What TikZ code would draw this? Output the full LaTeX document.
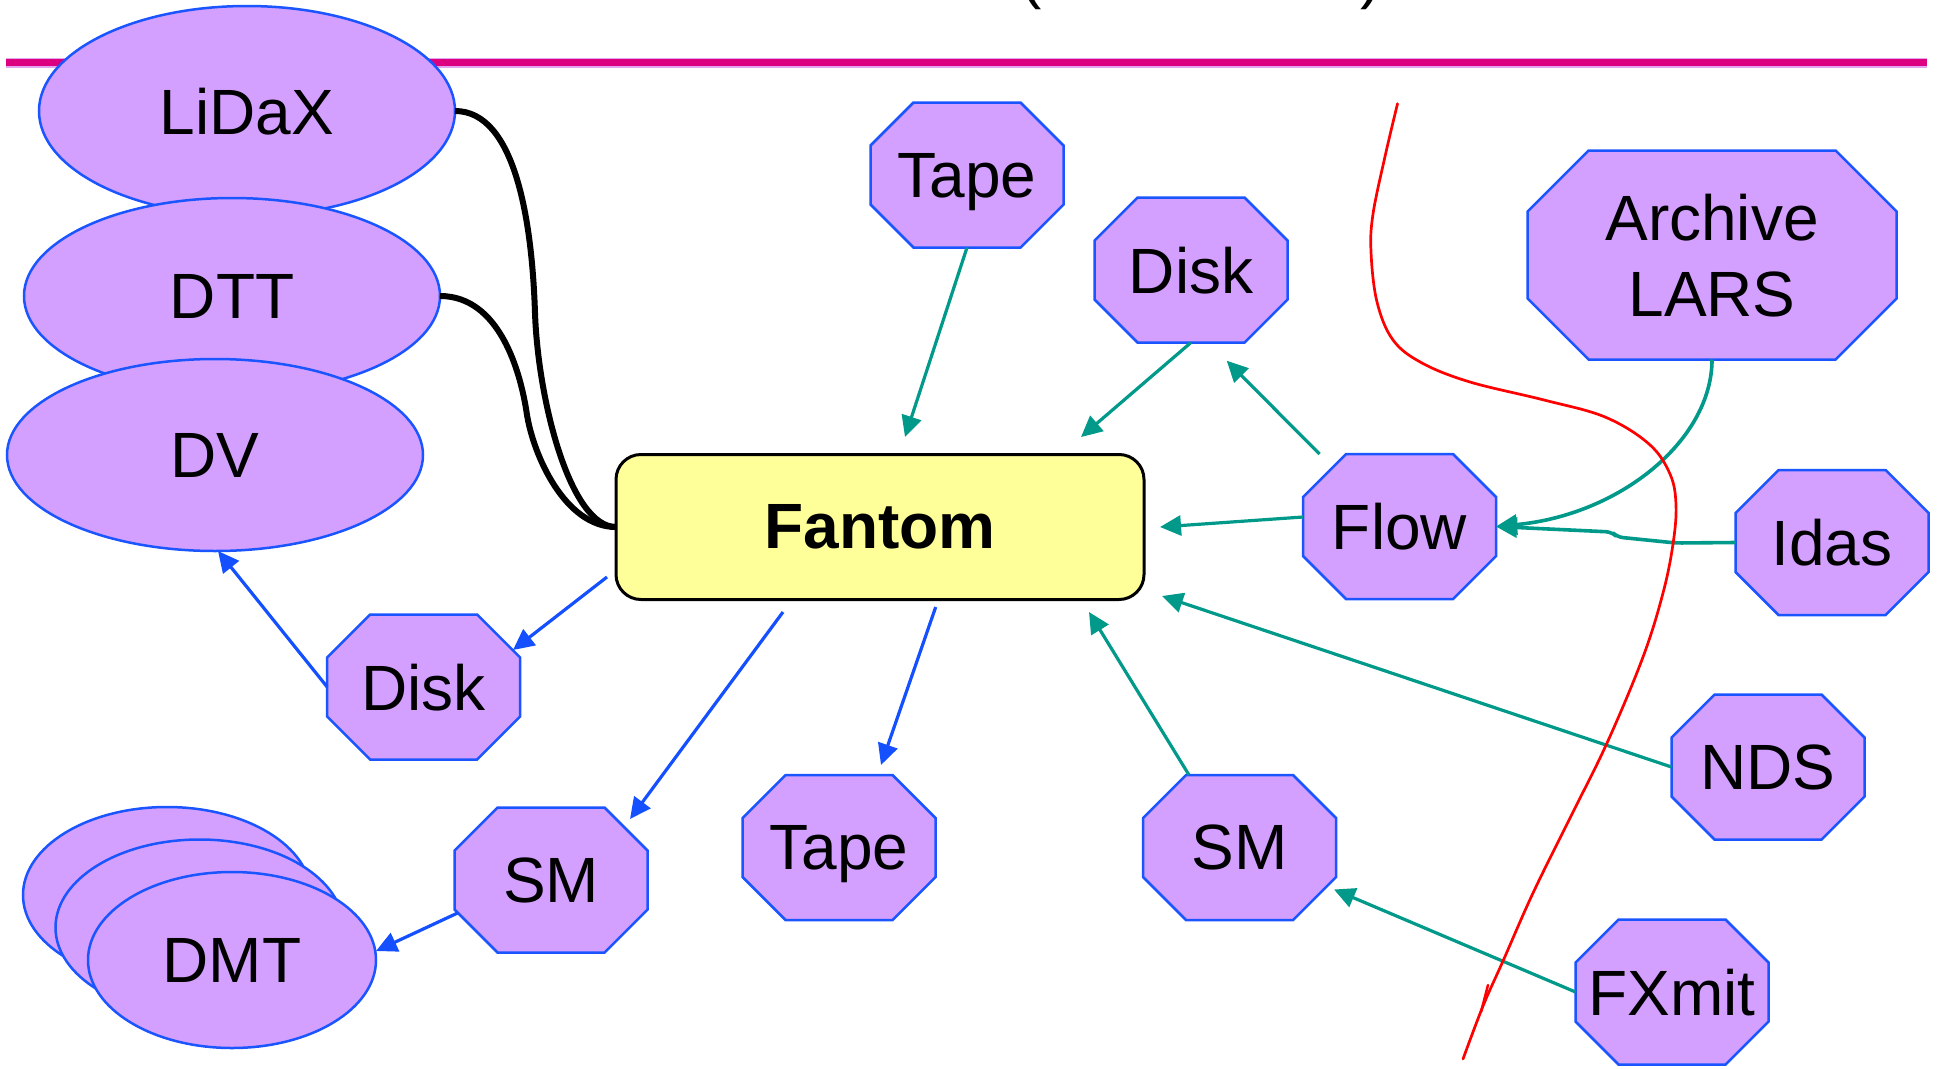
\documentclass[tikz,border=0pt]{standalone}
\usepackage{fontspec}
\setmainfont{Liberation Sans}
\usetikzlibrary{shapes.geometric,arrows.meta,backgrounds,calc}
\definecolor{lav}{HTML}{D4A0FF}
\definecolor{nblue}{HTML}{1A55FF}
\definecolor{eblue}{HTML}{1450FF}
\definecolor{tealc}{HTML}{00998A}
\definecolor{fyel}{HTML}{FFFF99}
\definecolor{mag}{HTML}{DC0080}
\definecolor{magedge}{HTML}{E2A6F0}
\newcommand\drawocta[2]{%
  \begin{scope}[on background layer]
  \path[octline] ([xshift=#2]#1.north west) -- ([xshift=-#2]#1.north east)
    -- ([yshift=-#2]#1.north east) -- ([yshift=#2]#1.south east)
    -- ([xshift=-#2]#1.south east) -- ([xshift=#2]#1.south west)
    -- ([yshift=#2]#1.south west) -- ([yshift=-#2]#1.north west) -- cycle;
  \end{scope}}
\begin{document}
\begin{tikzpicture}[x=1pt,y=-1pt,
  every node/.style={font=\fontsize{64}{76}\selectfont, inner sep=0pt, outer sep=0pt},
  ell/.style={ellipse, draw=nblue, fill=lav, line width=2.5pt, text depth=0pt},
  octnode/.style={minimum width=193pt, minimum height=145pt, text depth=0pt},
  octline/.style={draw=nblue, fill=lav, line width=2.5pt, line join=miter},
  bluearr/.style={draw=eblue, line width=3.2pt, -{Triangle[length=21pt,width=20pt]}},
  tealarr/.style={draw=tealc, line width=3.2pt, -{Triangle[length=21pt,width=20pt]}},
  link/.style={draw=black, line width=6pt},
  ]
\useasboundingbox (0,0) rectangle (1937,1068);
\clip (0,0) rectangle (1937,1068);

% title remnants
\node[anchor=south] (lpar) at (1031,10) {(};
\node[anchor=south] (rpar) at (1371,10) {)};

% magenta rule
\draw[magedge, line width=10pt] (6,62.7) -- (1927,62.7);
\draw[mag, line width=6.5pt] (6,62.7) -- (1927,62.7);

% ellipses
\node[ell, minimum width=416pt, minimum height=210pt] (lidax) at (247,111) {LiDaX};
\node[ell, minimum width=416pt, minimum height=196pt] (dtt) at (232,296) {DTT};
\node[ell, minimum width=416pt, minimum height=192pt] (dv) at (215,455) {DV};

\node[ell, minimum width=288pt, minimum height=176pt] (dmtA) at (167,895) {};
\node[ell, minimum width=288pt, minimum height=176pt] (dmtB) at (199.5,927.5) {};
\node[ell, minimum width=288pt, minimum height=176pt] (dmt) at (232,960) {DMT};

% Fantom
\node[draw=black, fill=fyel, rounded corners=25pt, line width=3pt,
  minimum width=528pt, minimum height=145pt,
  font=\fontsize{64}{76}\selectfont\bfseries] (fantom) at (880,527) {Fantom};

% octagons
\node[octnode] (tapeT) at (967,175) {Tape}; \drawocta{tapeT}{43pt}
\node[octnode] (diskT) at (1191,270) {Disk}; \drawocta{diskT}{43pt}
\node[octnode, minimum width=369pt, minimum height=209pt, align=center] (archive) at (1712,255) {Archive\\LARS}; \drawocta{archive}{61pt}
\node[octnode] (flow) at (1399.5,526.5) {Flow}; \drawocta{flow}{43pt}
\node[octnode] (idas) at (1832,542.5) {Idas}; \drawocta{idas}{43pt}
\node[octnode] (diskL) at (423.7,687) {Disk}; \drawocta{diskL}{43pt}
\node[octnode] (smL) at (551,880) {SM}; \drawocta{smL}{43pt}
\node[octnode] (tapeB) at (839,847.5) {Tape}; \drawocta{tapeB}{43pt}
\node[octnode] (smR) at (1239.5,847.5) {SM}; \drawocta{smR}{43pt}
\node[octnode] (nds) at (1768,767) {NDS}; \drawocta{nds}{43pt}
\node[octnode] (fxmit) at (1672,992) {FXmit}; \drawocta{fxmit}{43pt}

% black links
\draw[link] (lidax.east) .. controls (515,111) and (532,220) .. (535,313)
  .. controls (538,400) and (570,527) .. (fantom.west);
\draw[link] (dtt.east) .. controls (500,296) and (520.7,373) .. (526.7,413)
  .. controls (533,455) and (565,527) .. (fantom.west);

% teal edges
\draw[tealarr] (tapeT.south) -- ([shift={(25,-90)}]fantom.center);
\draw[tealarr] (diskT.south) -- ([shift={(201,-90)}]fantom.center);
\draw[tealarr] ([shift={(-80,-72.5)}]flow.center) -- ([shift={(35.7,90.7)}]diskT.center);
\draw[tealarr] ([shift={(-96.5,-9.5)}]flow.center) -- ([shift={(280,0)}]fantom.center);
\draw[tealarr, line width=3.6pt] (archive.south) .. controls (1712,440) and (1620,515) .. (flow.east);
\draw[tealarr, line width=3.6pt, rounded corners=6pt] (idas.west) -- (1676,543) -- (1617,537) -- (1612,532) -- (flow.east);
\draw[tealarr] (nds.west) -- ([shift={(282,69)}]fantom.center);
\draw[tealarr] ([shift={(-50.5,-72.5)}]smR.center) -- ([shift={(209,85)}]fantom.center);
\draw[tealarr] (fxmit.west) -- ([shift={(94.5,42)}]smR.center);

% blue edges
\draw[bluearr] ([shift={(55.7,80)}]fantom.center) -- ([shift={(42,-82.5)}]tapeB.center);
\draw[bluearr] ([shift={(-97,85)}]fantom.center) -- ([shift={(79,-61)}]smL.center);
\draw[bluearr] ([shift={(-273,50)}]fantom.center) -- ([shift={(89.3,-37)}]diskL.center);
\draw[bluearr] (diskL.west) -- ([xshift=3pt]dv.south);
\draw[bluearr] ([shift={(-93.4,33)}]smL.center) -- ([shift={(0,-9)}]dmt.east);

% red annotation stroke
\draw[red, line width=2.7pt, line cap=round] plot[smooth, tension=0.6] coordinates {
 (1397.5,103.7) (1385,156.5) (1373,214) (1371,252) (1377,302) (1393,340)
 (1422,363) (1470,382) (1544,400) (1605,417) (1649,444) (1670,474)
 (1676,505) (1673,544) (1663,593) (1643,657) (1607,743) (1570,818)
 (1533,893) (1503,961) (1483,1006) (1463,1059)};
\draw[red, line width=2.5pt, line cap=round] (1481,1012) -- (1488,985);
\end{tikzpicture}
\end{document}
